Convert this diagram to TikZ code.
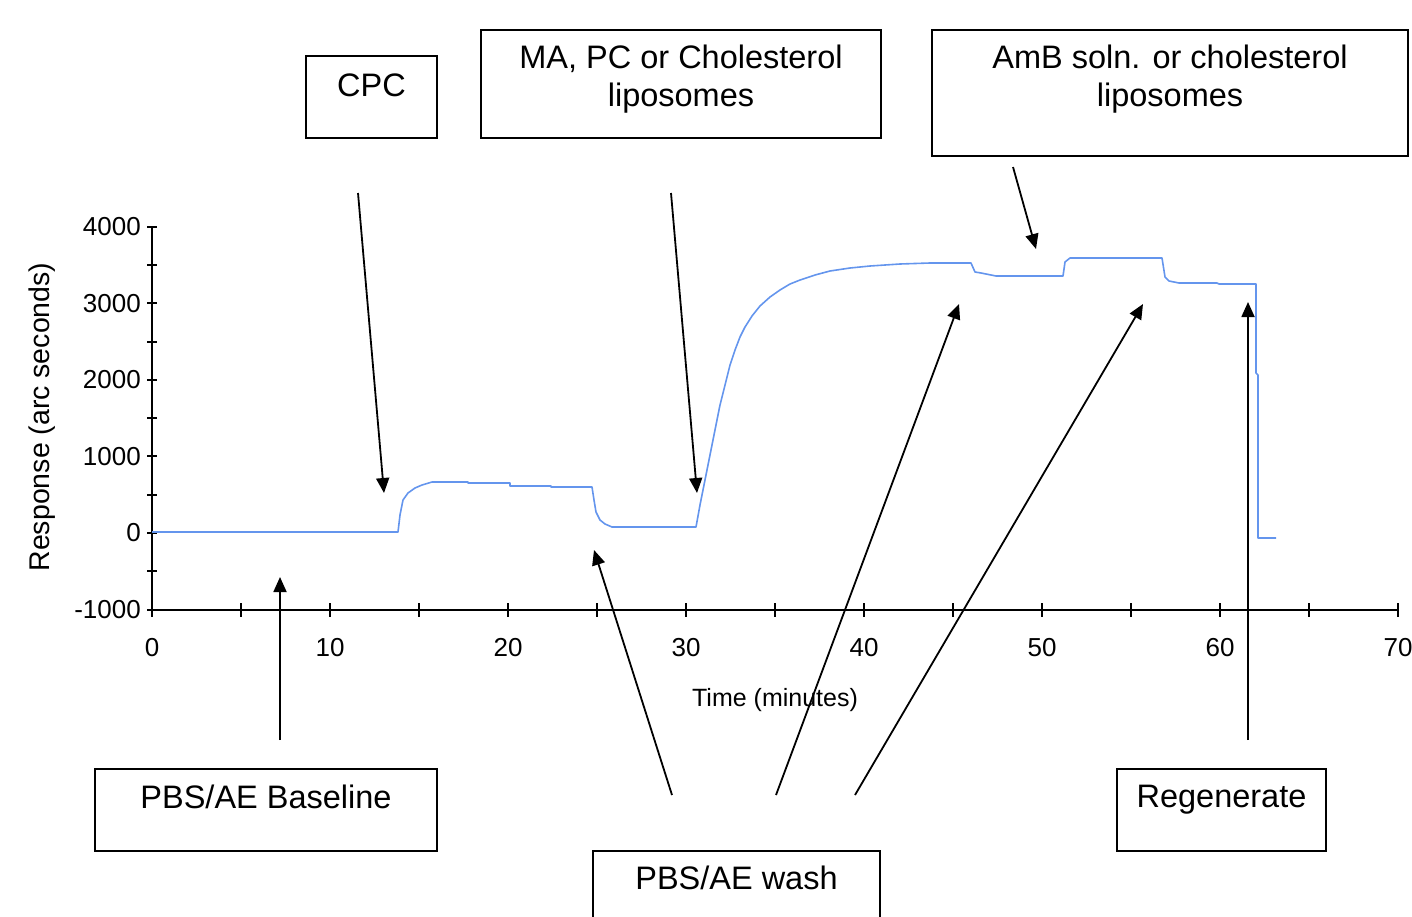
\documentclass[tikz,border=0pt]{standalone}
\usepackage{fontspec}
\setmainfont{Liberation Sans}
\usetikzlibrary{arrows.meta}
\definecolor{traceblue}{RGB}{100,149,237}
\tikzstyle{tag}=[draw, line width=1.8pt, inner sep=0pt]
\tikzstyle{lbl}=[anchor=north, inner sep=0pt, align=center, yshift=-16pt, font=\fontsize{32.5}{38}\selectfont]
\tikzstyle{pointer}=[line width=1.8pt, -{Triangle[length=15pt, width=13pt]}]
\tikzstyle{axis}=[line width=2pt]
\tikzstyle{ticklbl}=[inner sep=0pt, font=\fontsize{26}{30}\selectfont]
\tikzstyle{trace}=[line width=1.6pt, traceblue, line join=round]

\begin{document}
\begin{tikzpicture}[x=1pt, y=-1pt]
  \useasboundingbox (0,0) rectangle (1412,916);
  \clip (0,0) rectangle (1412,916);
  % axes
  \draw[axis] (152,227) -- (152,610) -- (1398,610);
  \foreach \t in {0,5,...,70}
    \draw[axis] ({152+17.8*\t},603) -- ({152+17.8*\t},617);
  \foreach \v in {-1000,-500,...,4000}
    \draw[axis] (147,{533-0.0766*\v}) -- (157,{533-0.0766*\v});
  \foreach \t in {0,10,...,70}
    \node[ticklbl] (xt\t) at ({152+17.8*\t},648) {\t};
  \foreach \v [count=\i] in {-1000,0,...,4000}
    \node[ticklbl, anchor=east] (yt\i) at (141,{533-0.0766*\v}) {\v};
  \node[font=\fontsize{25}{30}\selectfont] (xlab) at (775,700) {Time (minutes)};
  \node[rotate=90, font=\fontsize{28.5}{34}\selectfont] (ylab) at (42,417) {Response (arc seconds)};
  % sensor trace
  \draw[trace] plot coordinates {(152,532) (398,532) (400,515) (403,500) (408,493)
    (415,488) (422,485) (432,482) (468,482) (468,483) (510,483) (510,486) (551,486)
    (551,487) (592,487) (594,500) (596,512) (600,520) (605,524) (612,527) (696,527)
    (700,505) (705,480) (710,455) (715,430) (720,405) (725,385) (730,365) (735,350)
    (740,337) (745,327) (752,316) (760,306) (770,297) (780,290) (790,284) (800,280)
    (815,275) (830,271) (850,268) (870,266) (900,264) (930,263) (971,263) (975,272)
    (981,273) (996,276) (1063,276) (1065,262) (1070,258) (1162,258) (1165,277)
    (1169,281) (1179,283) (1217,283) (1219,284) (1256,284) (1256,373) (1258,375)
    (1258,538) (1276,538)};
  % boxes
  \node[tag, minimum width=131pt, minimum height=82pt,
    label={[lbl, yshift=-3pt]north:CPC}] (cpc) at (371.5,97) {};
  \node[tag, minimum width=400pt, minimum height=108pt,
    label={[lbl]north:MA, PC or Cholesterol\\liposomes}] (ma) at (681,84) {};
  \node[tag, minimum width=476pt, minimum height=126pt,
    label={[lbl]north:AmB soln. or cholesterol\\liposomes}] (amb) at (1170,93) {};
  \node[tag, minimum width=342pt, minimum height=82pt,
    label={[lbl, yshift=-1pt]north:PBS/AE Baseline}] (base) at (266,810) {};
  \node[tag, minimum width=287pt, minimum height=82pt,
    label={[lbl]north:PBS/AE wash}] (wash) at (736.5,892) {};
  \node[tag, minimum width=209pt, minimum height=82pt,
    label={[lbl, yshift=-1pt]north:Regenerate}] (regen) at (1221.5,810) {};
  % arrow ends
  \coordinate (cpcTail) at (358,193);    \coordinate (cpcTip) at (384,493);
  \coordinate (maTail) at (671,193);     \coordinate (maTip) at (697,493);
  \coordinate (ambTail) at (1013,167);   \coordinate (ambTip) at (1036,249);
  \coordinate (baseTail) at (280,740);   \coordinate (baseTip) at (280,577);
  \coordinate (washTailA) at (672,795);  \coordinate (washTipA) at (594,550);
  \coordinate (washTailB) at (776,795);  \coordinate (washTipB) at (959,304);
  \coordinate (washTailC) at (855,795);  \coordinate (washTipC) at (1143,304);
  \coordinate (regenTail) at (1248,740); \coordinate (regenTip) at (1248,302);
  % arrows
  \draw[pointer] (cpcTail) -- (cpcTip);
  \draw[pointer] (maTail) -- (maTip);
  \draw[pointer] (ambTail) -- (ambTip);
  \draw[pointer] (baseTail) -- (baseTip);
  \draw[pointer] (washTailA) -- (washTipA);
  \draw[pointer] (washTailB) -- (washTipB);
  \draw[pointer] (washTailC) -- (washTipC);
  \draw[pointer] (regenTail) -- (regenTip);
\end{tikzpicture}
\end{document}
